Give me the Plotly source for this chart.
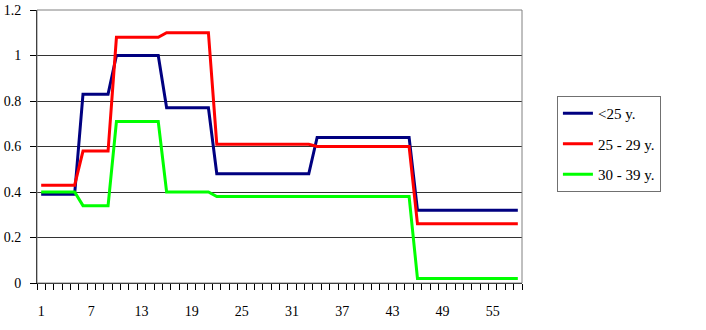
import plotly.graph_objects as go

categories = list(range(1, 59))
tick_values = [1, 7, 13, 19, 25, 31, 37, 43, 49, 55]
tick_labels = ["1", "7", "13", "19", "25", "31", "37", "43", "49", "55"]

under_25 = [0.39, 0.39, 0.39, 0.39, 0.39,
            0.83, 0.83, 0.83, 0.83,
            1.00, 1.00, 1.00, 1.00, 1.00, 1.00,
            0.77, 0.77, 0.77, 0.77, 0.77, 0.77,
            0.48, 0.48, 0.48, 0.48, 0.48, 0.48, 0.48, 0.48, 0.48, 0.48, 0.48, 0.48,
            0.64, 0.64, 0.64, 0.64, 0.64, 0.64, 0.64, 0.64, 0.64, 0.64, 0.64, 0.64,
            0.32, 0.32, 0.32, 0.32, 0.32, 0.32, 0.32, 0.32, 0.32, 0.32, 0.32, 0.32, 0.32]

age_25_29 = [0.43, 0.43, 0.43, 0.43, 0.43,
             0.58, 0.58, 0.58, 0.58,
             1.08, 1.08, 1.08, 1.08, 1.08, 1.08,
             1.10, 1.10, 1.10, 1.10, 1.10, 1.10,
             0.61, 0.61, 0.61, 0.61, 0.61, 0.61, 0.61, 0.61, 0.61, 0.61, 0.61, 0.61,
             0.60, 0.60, 0.60, 0.60, 0.60, 0.60, 0.60, 0.60, 0.60, 0.60, 0.60, 0.60,
             0.26, 0.26, 0.26, 0.26, 0.26, 0.26, 0.26, 0.26, 0.26, 0.26, 0.26, 0.26, 0.26]

age_30_39 = [0.40, 0.40, 0.40, 0.40, 0.40,
             0.34, 0.34, 0.34, 0.34,
             0.71, 0.71, 0.71, 0.71, 0.71, 0.71,
             0.40, 0.40, 0.40, 0.40, 0.40, 0.40,
             0.38, 0.38, 0.38, 0.38, 0.38, 0.38, 0.38, 0.38, 0.38, 0.38, 0.38, 0.38,
             0.38, 0.38, 0.38, 0.38, 0.38, 0.38, 0.38, 0.38, 0.38, 0.38, 0.38, 0.38,
             0.02, 0.02, 0.02, 0.02, 0.02, 0.02, 0.02, 0.02, 0.02, 0.02, 0.02, 0.02, 0.02]

series = [
    ("<25 y.", under_25, "#000080"),
    ("25 - 29 y.", age_25_29, "#FF0000"),
    ("30 - 39 y.", age_30_39, "#00FF00"),
]

font = "Liberation Serif"

fig = go.Figure()
for i, (name, vals, color) in enumerate(series):
    fig.add_trace(go.Scatter(
        x=categories, y=vals, mode="lines", name=name,
        line=dict(color=color, width=3), legendgroup=f"g{i}",
    ))

fig.update_layout(
    width=706, height=330,
    margin=dict(l=37, r=184, t=10, b=47),
    paper_bgcolor="white", plot_bgcolor="white",
    font=dict(family=font, size=14, color="black"),
    showlegend=True,
    legend=dict(
        x=1.072, y=0.685, xanchor="left", yanchor="top",
        bordercolor="#707070", borderwidth=1,
        tracegroupgap=8, traceorder="grouped",
        font=dict(family=font, size=15),
    ),
    shapes=[dict(type="rect", xref="paper", yref="paper", x0=0, x1=1, y0=0, y1=1,
                 line=dict(color="#808080", width=1))],
)

fig.update_xaxes(
    range=[0.5, 58.5], tickvals=tick_values, ticktext=tick_labels,
    ticks="outside", ticklen=15, tickcolor="rgba(0,0,0,0)",
    tickfont=dict(family=font, size=14),
    showgrid=False, zeroline=False, automargin=False,
    showline=True, linecolor="black", linewidth=1,
    minor=dict(ticks="outside", tick0=0.5, dtick=1, ticklen=6,
               tickcolor="black", showgrid=False),
)
fig.update_yaxes(
    range=[0, 1.2], dtick=0.2,
    ticks="outside", ticklen=6, tickcolor="black", ticklabelstandoff=6,
    tickfont=dict(family=font, size=14), automargin=False,
    showgrid=True, gridcolor="#333333", gridwidth=1, zeroline=False,
    showline=True, linecolor="black", linewidth=1,
)

fig.write_html("out.html")
